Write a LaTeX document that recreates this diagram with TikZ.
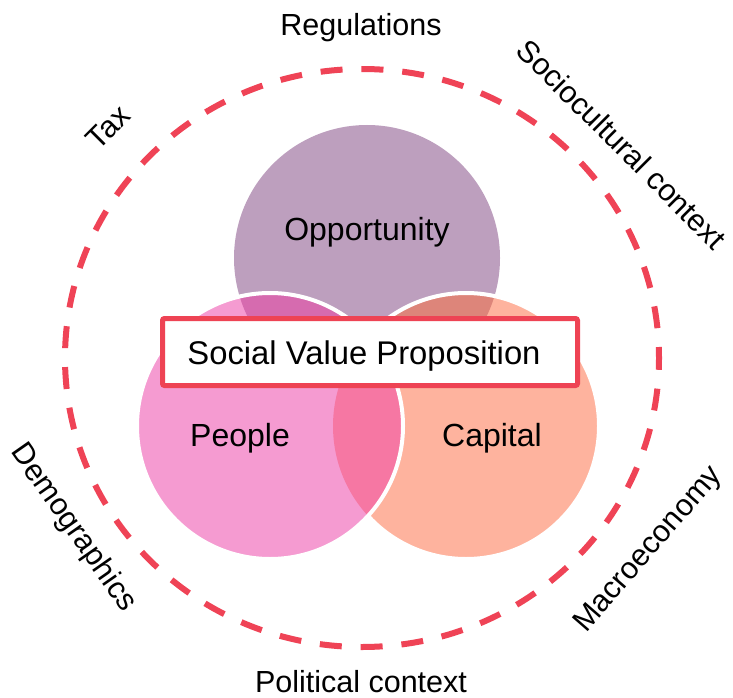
\documentclass[tikz,border=0pt]{standalone}
\usepackage{fontspec}
\setmainfont{Liberation Sans}
\definecolor{oppcol}{HTML}{BD9FBE}
\definecolor{peocol}{HTML}{F59BD1}
\definecolor{capcol}{HTML}{FEB39E}
\definecolor{opppeocol}{HTML}{D66BAF}
\definecolor{oppcapcol}{HTML}{DD857A}
\definecolor{peocapcol}{HTML}{F677A3}
\definecolor{ringred}{HTML}{EF4356}
\definecolor{boxred}{HTML}{EE4354}
\begin{document}
\begin{tikzpicture}[x=1pt,y=-1pt,
  ring/.style={draw=ringred, line width=6pt, dash pattern=on 22pt off 18.9pt, dash phase=11pt},
  rim/.style={draw=white, line width=4pt},
  circletext/.style={font=\fontsize{32}{38}\selectfont, inner sep=0pt, anchor=base},
  outertext/.style={font=\fontsize{30.5}{36}\selectfont, inner sep=0pt},
  svpbox/.style={draw=boxred, line width=5pt, fill=white, rounded corners=2pt,
                 minimum width=415pt, minimum height=67pt, inner sep=0pt}]
\useasboundingbox (0,0) rectangle (733,698);

% centres of the three sets and of the surrounding ring
\coordinate (ringc) at (362,358);
\coordinate (opp) at (367,258);
\coordinate (peo) at (270,426);
\coordinate (cap) at (466,426);

% surrounding dashed ring of external factors
\draw[ring] (ringc) ellipse [x radius=297pt, y radius=289pt];

% Venn diagram
\fill[oppcol] (opp) circle [radius=133pt];
\fill[capcol] (cap) circle [radius=133pt];
\begin{scope}
  \clip (cap) circle [radius=133pt];
  \fill[oppcapcol] (opp) circle [radius=133pt];
\end{scope}
\draw[rim] (cap) circle [radius=133pt];
\fill[peocol] (peo) circle [radius=133pt];
\begin{scope}
  \clip (peo) circle [radius=133pt];
  \fill[opppeocol] (opp) circle [radius=133pt];
  \fill[peocapcol] (cap) circle [radius=133pt];
\end{scope}
\draw[rim] (peo) circle [radius=133pt];

% set labels
\node[circletext] (opplabel) at (367,240) {Opportunity};
\node[circletext] (peolabel) at (240,446) {People};
\node[circletext] (caplabel) at (492,446) {Capital};

% central proposition box
\node[svpbox] (svp) at (370,352) {};
\node[circletext, font=\fontsize{32.8}{38}\selectfont] (svptext) at (364,364) {Social Value Proposition};

% external factors around the ring
\node[outertext, anchor=base] (regulations) at (361,36) {Regulations};
\node[outertext, anchor=base] (political) at (361,692) {Political context};
\node[outertext, rotate=45] (tax) at (108,127) {Tax};
\node[outertext, rotate=-45] (socio) at (622,144) {Sociocultural context};
\node[outertext, rotate=-55] (demo) at (73,528) {Demographics};
\node[outertext, rotate=49] (macro) at (649,550) {Macroeconomy};
\end{tikzpicture}
\end{document}
